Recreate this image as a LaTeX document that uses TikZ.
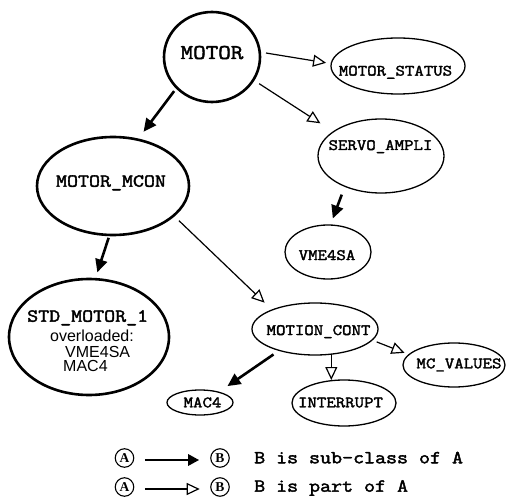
\documentclass[tikz,border=0pt]{standalone}
\usepackage{fontspec}
\setmainfont{Liberation Sans}
\newfontfamily\serifl{Liberation Serif}
\newfontfamily\cour{Latin Modern Mono}[FakeBold=2.2,FakeStretch=1.16]
\usetikzlibrary{arrows.meta,shapes.geometric}
\begin{document}
\begin{tikzpicture}[x=1pt,y=-1pt,
  thickel/.style={draw, ellipse, line width=2.6pt, inner sep=0pt, outer sep=0pt},
  thinel/.style={draw, ellipse, line width=1.3pt, inner sep=0pt, outer sep=0pt},
  lbl/.style={font=\cour\fontsize{15.8}{15.8}\selectfont, anchor=base, inner sep=0pt},
  biglbl/.style={font=\cour\fontsize{18.4}{18.4}\selectfont, inner sep=0pt},
  sanslbl/.style={font=\fontsize{16}{16}\selectfont, anchor=base west, inner sep=0pt},
  circ/.style={draw, circle, line width=1.1pt, minimum size=18.5pt, inner sep=0pt,
    font=\serifl\bfseries\fontsize{13.5}{13.5}\selectfont},
  subclass/.style={line width=2.6pt, -{Triangle[length=13pt,width=12pt]}},
  partof/.style={line width=1.2pt, -{Triangle[open,length=13pt,width=12pt]}},
]
\useasboundingbox (0,0) rectangle (506,497);

% nodes
\node[thickel, minimum width=96pt, minimum height=90pt] (motor) at (212,57) {};
\node[thinel, minimum width=134pt, minimum height=56pt] (status) at (398,66) {};
\node[thinel, minimum width=126pt, minimum height=74pt] (servo) at (381,156) {};
\node[thinel, minimum width=86pt, minimum height=54pt] (vme) at (328,252) {};
\node[thickel, minimum width=152pt, minimum height=98pt] (mcon) at (113,186) {};
\node[thickel, minimum width=160pt, minimum height=116pt] (std) at (89,337) {};
\node[thinel, minimum width=126pt, minimum height=52pt] (motion) at (315,329) {};
\node[thinel, minimum width=102pt, minimum height=44pt] (mcval) at (454,365) {};
\node[thinel, minimum width=66pt, minimum height=25pt] (mac) at (200,402.5) {};
\node[thinel, minimum width=104pt, minimum height=46pt] (intr) at (344,403) {};

% texts
\node[lbl, font=\cour\fontsize{21}{21}\selectfont] (tmotor) at (212,59) {MOTOR};
\node[lbl] (tstatus) at (395.5,75.6) {MOTOR\_STATUS};
\node[lbl] (tservo) at (380.5,150) {SERVO\_AMPLI};
\node[lbl] (tvme) at (327,260) {VME4SA};
\node[biglbl, anchor=base] (tmcon) at (111,186.7) {MOTOR\_MCON};
\node[biglbl, anchor=base west] (tstd) at (27,321.7) {STD\_MOTOR\_1};
\node[sanslbl] (tover) at (50,341.7) {overloaded:};
\node[sanslbl] (tovme) at (65,357.3) {VME4SA};
\node[sanslbl] (tomac) at (63,371.7) {MAC4};
\node[lbl] (tmotion) at (318.5,335) {MOTION\_CONT};
\node[lbl] (tmcval) at (459,368.3) {MC\_VALUES};
\node[lbl] (tmac) at (202.5,407.3) {MAC4};
\node[lbl] (tintr) at (340.5,407.3) {INTERRUPT};

% connectors
\draw[partof, shorten <=6.4pt, shorten >=5.2pt] (motor.6.3) -- (status.178.4);
\draw[partof, shorten <=7pt, shorten >=15.5pt] (motor.-29.9) -- (servo.153.4);
\draw[subclass, shorten <=4.4pt, shorten >=9.8pt] (motor.221.8) -- (mcon.62.2);
\draw[subclass, shorten <=3pt, shorten >=7.2pt] (mcon.-94.4) -- (std.84.7);
\draw[partof, shorten <=7.4pt, shorten >=10.5pt] (mcon.-26.2) -- (motion.156.5);
\draw[subclass, shorten <=8.9pt, shorten >=7pt] (servo.-140.1) -- (vme.85);
\draw[subclass, shorten <=7.1pt, shorten >=10.7pt] (motion.-149.2) -- (mac.29);
\draw[partof] (motion.-57.4) -- (motion.-57.4 |- intr.north);
\draw[partof, shorten <=5pt, shorten >=4.8pt] (motion.-11) -- (mcval.167.8);

% legend
\node[circ] (la1) at (124.5,458) {A};
\node[circ] (lb1) at (220,458) {B};
\node[circ] (la2) at (124.5,487) {A};
\node[circ] (lb2) at (220,487) {B};
\draw[subclass, line width=2.8pt, -{Triangle[length=11pt,width=11pt]}, shorten <=10.5pt, shorten >=11pt] ([yshift=-2pt]la1.east) -- ([yshift=-2pt]lb1.west);
\draw[partof, shorten <=10.5pt, shorten >=10.5pt] ([yshift=-2pt]la2.east) -- ([yshift=-2pt]lb2.west);
\node[biglbl, anchor=base west] (leg1) at (254,463.3) {B is sub-class of A};
\node[biglbl, anchor=base west] (leg2) at (254,491.7) {B is part of A};
\end{tikzpicture}
\end{document}
